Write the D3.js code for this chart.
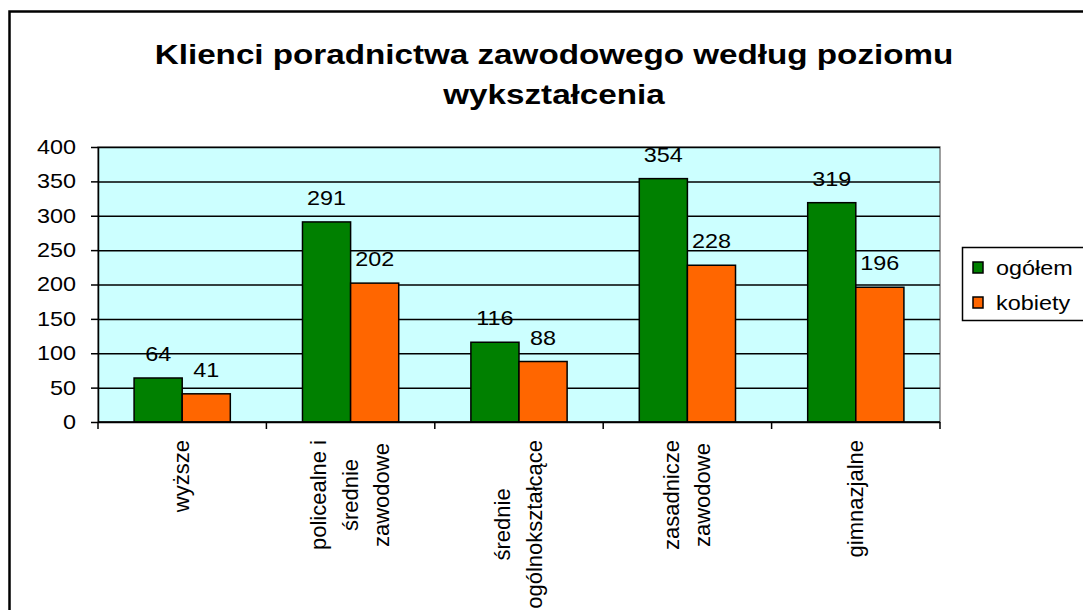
<!DOCTYPE html>
<html>
<head>
<meta charset="utf-8">
<script src="https://cdn.jsdelivr.net/npm/d3@7"></script>
<style>
  body { margin: 0; background: #fff; }
  svg { display: block; font-family: "Liberation Sans", Arial, sans-serif; }
</style>
</head>
<body>
<div class="chart"></div>
<script>
const categories = ['wyższe', 'policealne i\nśrednie\nzawodowe', 'średnie\nogólnokształcące', 'zasadnicze\nzawodowe', 'gimnazjalne'];
const seriesNames = ['ogółem', 'kobiety'];
const ogolem = [64, 291, 116, 354, 319];
const kobiety = [41, 202, 88, 228, 196];
const yTicks = [0, 50, 100, 150, 200, 250, 300, 350, 400];
const titleLines = ['Klienci poradnictwa zawodowego według poziomu', 'wykształcenia'];

const w = 1083;
const h = 610;
const plot = {left: 98, right: 940, top: 147, bottom: 422};
const colors = ['#008000', '#FF6600'];
const sx = 1.17; // horizontal stretch of the original picture
const fs = 20;

const svg = d3.select('div.chart')
  .append('svg')
  .attr('width', w)
  .attr('height', h);

// outer chart border (runs off the right and bottom)
svg.append('rect')
  .attr('x', 9.5).attr('y', 11.5)
  .attr('width', 1200).attr('height', 800)
  .attr('fill', 'none')
  .attr('stroke', '#000')
  .attr('stroke-width', 2.5);

const x0 = d3.scaleBand()
  .domain(categories)
  .range([plot.left, plot.right])
  .paddingInner(1.5 / 3.5)
  .paddingOuter(0.75 / 3.5);
const x1 = d3.scaleBand()
  .domain(seriesNames)
  .range([0, x0.bandwidth()]);
const y = d3.scaleLinear()
  .domain([0, 400])
  .range([plot.bottom, plot.top]);

// plot background
svg.append('rect')
  .attr('x', plot.left).attr('y', plot.top)
  .attr('width', plot.right - plot.left).attr('height', plot.bottom - plot.top)
  .attr('fill', '#CCFFFF')
  .attr('stroke', '#808080')
  .attr('stroke-width', 1.5);

// gridlines + y axis
const yAxis = svg.append('g')
  .attr('transform', 'translate(' + plot.left + ',0)')
  .call(d3.axisLeft(y).tickValues(yTicks).tickSize(7).tickSizeOuter(0).tickPadding(8));
yAxis.select('.domain').attr('stroke', '#000').attr('stroke-width', 1.5);
yAxis.selectAll('.tick line').attr('stroke', '#000').attr('stroke-width', 1.5);
yAxis.selectAll('.tick').append('line')
  .attr('x1', 0).attr('x2', plot.right - plot.left)
  .attr('stroke', '#000').attr('stroke-width', 1.5);
yAxis.selectAll('.tick text')
  .attr('font-size', fs)
  .attr('font-family', '"Liberation Sans", Arial, sans-serif')
  .attr('fill', '#000')
  .attr('x', null)
  .attr('transform', 'translate(-22,0) scale(' + sx + ',1)');

// bars
const rows = categories.map((c, i) => ({cat: c, vals: [ogolem[i], kobiety[i]]}));
const groups = svg.selectAll('g.grp')
  .data(rows)
  .enter()
  .append('g')
  .attr('class', 'grp')
  .attr('transform', (d) => 'translate(' + x0(d.cat) + ',0)');

groups.selectAll('rect')
  .data((d) => d.vals.map((v, j) => ({s: seriesNames[j], v: v, j: j})))
  .enter()
  .append('rect')
  .attr('x', (d) => x1(d.s))
  .attr('y', (d) => y(d.v))
  .attr('width', x1.bandwidth())
  .attr('height', (d) => y(0) - y(d.v))
  .attr('fill', (d) => colors[d.j])
  .attr('stroke', '#000')
  .attr('stroke-width', 1.5);

groups.selectAll('text.val')
  .data((d) => d.vals.map((v, j) => ({s: seriesNames[j], v: v})))
  .enter()
  .append('text')
  .attr('class', 'val')
  .attr('transform', (d) => 'translate(' + (x1(d.s) + x1.bandwidth() / 2) + ',' + (y(d.v) - 17) + ') scale(' + sx + ',1)')
  .attr('text-anchor', 'middle')
  .attr('font-size', fs)
  .text((d) => d.v);

// x axis with ticks at category boundaries
svg.append('line')
  .attr('x1', plot.left).attr('x2', plot.right)
  .attr('y1', y(0)).attr('y2', y(0))
  .attr('stroke', '#000').attr('stroke-width', 1.5);
const bounds = d3.range(categories.length + 1).map((i) => plot.left + i * x0.step());
svg.selectAll('line.xt')
  .data(bounds)
  .enter()
  .append('line')
  .attr('class', 'xt')
  .attr('x1', (d) => d).attr('x2', (d) => d)
  .attr('y1', y(0)).attr('y2', y(0) + 7)
  .attr('stroke', '#000').attr('stroke-width', 1.5);

// rotated category labels
const lineGap = 31.5;
const labelTop = 440;
categories.forEach((c) => {
  const lines = c.split('\n');
  const cx = x0(c) + x0.bandwidth() / 2;
  const g = svg.append('g');
  const texts = g.selectAll('text')
    .data(lines)
    .enter()
    .append('text')
    .attr('font-size', 22)
    .attr('text-anchor', 'middle')
    .text((d) => d);
  let len = 0;
  texts.each(function() { len = Math.max(len, this.getComputedTextLength()); });
  const cy = labelTop + len / 2;
  texts.attr('transform', (d, i) => {
    const lx = cx + (i - (lines.length - 1) / 2) * lineGap + 7;
    return 'translate(' + lx + ',' + cy + ') rotate(-90)';
  });
});

// title
svg.selectAll('text.title')
  .data(titleLines)
  .enter()
  .append('text')
  .attr('class', 'title')
  .attr('transform', (d, i) => 'translate(554,' + (64 + i * 40) + ') scale(1.23,1)')
  .attr('text-anchor', 'middle')
  .attr('font-size', 27)
  .attr('font-weight', 'bold')
  .text((d) => d);

// legend
const legend = svg.append('g');
legend.append('rect')
  .attr('x', 962.5).attr('y', 247.5)
  .attr('width', 200).attr('height', 73)
  .attr('fill', '#fff')
  .attr('stroke', '#000')
  .attr('stroke-width', 1.5);
const items = legend.selectAll('g.item')
  .data(seriesNames)
  .enter()
  .append('g')
  .attr('class', 'item')
  .attr('transform', (d, i) => 'translate(973,' + (262 + i * 35) + ')');
items.append('rect')
  .attr('width', 10).attr('height', 11)
  .attr('fill', (d, i) => colors[i])
  .attr('stroke', '#000')
  .attr('stroke-width', 1.5);
items.append('text')
  .attr('transform', 'translate(23,13) scale(' + sx + ',1)')
  .attr('font-size', fs)
  .text((d) => d);
</script>
</body>
</html>
